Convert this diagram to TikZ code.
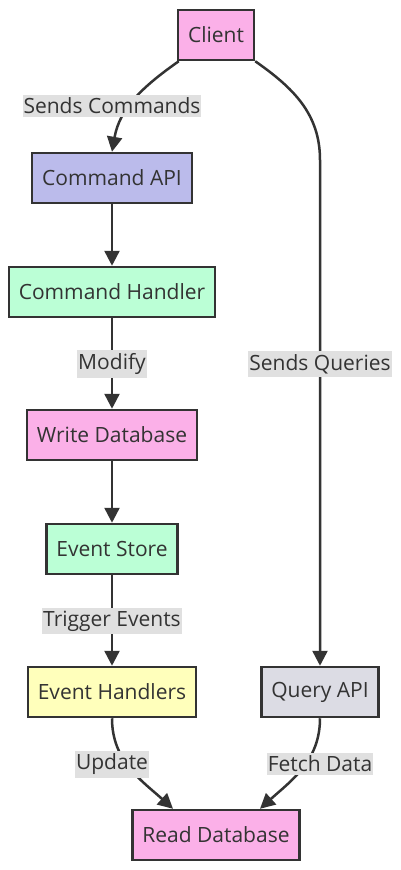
\documentclass[tikz,border=0pt]{standalone}
\usepackage{fontspec}
\setmainfont{Open Sans}
\usetikzlibrary{arrows.meta}
\definecolor{pinkfill}{HTML}{FBB0E8}
\definecolor{lavfill}{HTML}{BBBBEB}
\definecolor{mintfill}{HTML}{BBFFD6}
\definecolor{yelfill}{HTML}{FFFFBB}
\definecolor{grayfill}{HTML}{DCDCE4}
\definecolor{lblfill}{HTML}{E0E0E0}
\definecolor{ink}{HTML}{333333}
\begin{document}
\begin{tikzpicture}[x=1pt,y=-1pt,
    box/.style={draw=ink, line width=2.5pt, minimum height=50pt, inner xsep=10pt,
      font=\fontsize{21}{25}\selectfont, text=ink},
    lbl/.style={fill=lblfill, inner xsep=1pt, inner ysep=3pt, font=\fontsize{21}{25}\selectfont, text=ink},
    edge/.style={draw=ink, line width=2.5pt, -{Triangle[length=15pt,width=15pt]}}]
    \useasboundingbox (0,0) rectangle (401,870);

    \node [box, fill=pinkfill] (client) at (216,35) {Client};
    \node [box, fill=lavfill] (capi) at (112,178) {Command API};
    \node [box, fill=mintfill] (chandler) at (112,292) {Command Handler};
    \node [box, fill=pinkfill] (wdb) at (112,435) {Write Database};
    \node [box, fill=mintfill] (estore) at (112,549) {Event Store};
    \node [box, fill=yelfill] (ehandlers) at (112,692) {Event Handlers};
    \node [box, fill=grayfill] (qapi) at (320,692) {Query API};
    \node [box, fill=pinkfill] (rdb) at (216,835) {Read Database};

    \coordinate (bend) at (320,160);
    \draw [edge] ([xshift=2pt]client.south west) to[out=-145,in=80] (capi.north);
    \draw [edge] (client.south east) to[out=-35,in=90] (bend) -- (qapi.north);
    \draw [edge] (capi) -- (chandler);
    \draw [edge] (chandler) -- (wdb);
    \draw [edge] (wdb) -- (estore);
    \draw [edge] (estore) -- (ehandlers);
    \draw [edge] (ehandlers.south) to[out=-90,in=138] ([xshift=-43pt]rdb.north);
    \draw [edge] (qapi.south) to[out=-90,in=42] ([xshift=44pt]rdb.north);

    % edge labels
    \node [lbl] (lcmd) at (112,106) {Sends Commands};
    \node [lbl] (lmod) at (112,364) {Modify};
    \node [lbl] (lqry) at (320,364) {Sends Queries};
    \node [lbl] (ltrig) at (112,621) {Trigger Events};
    \node [lbl] (lupd) at (112,764) {Update};
    \node [lbl] (lfetch) at (320,764) {Fetch Data};
\end{tikzpicture}
\end{document}
